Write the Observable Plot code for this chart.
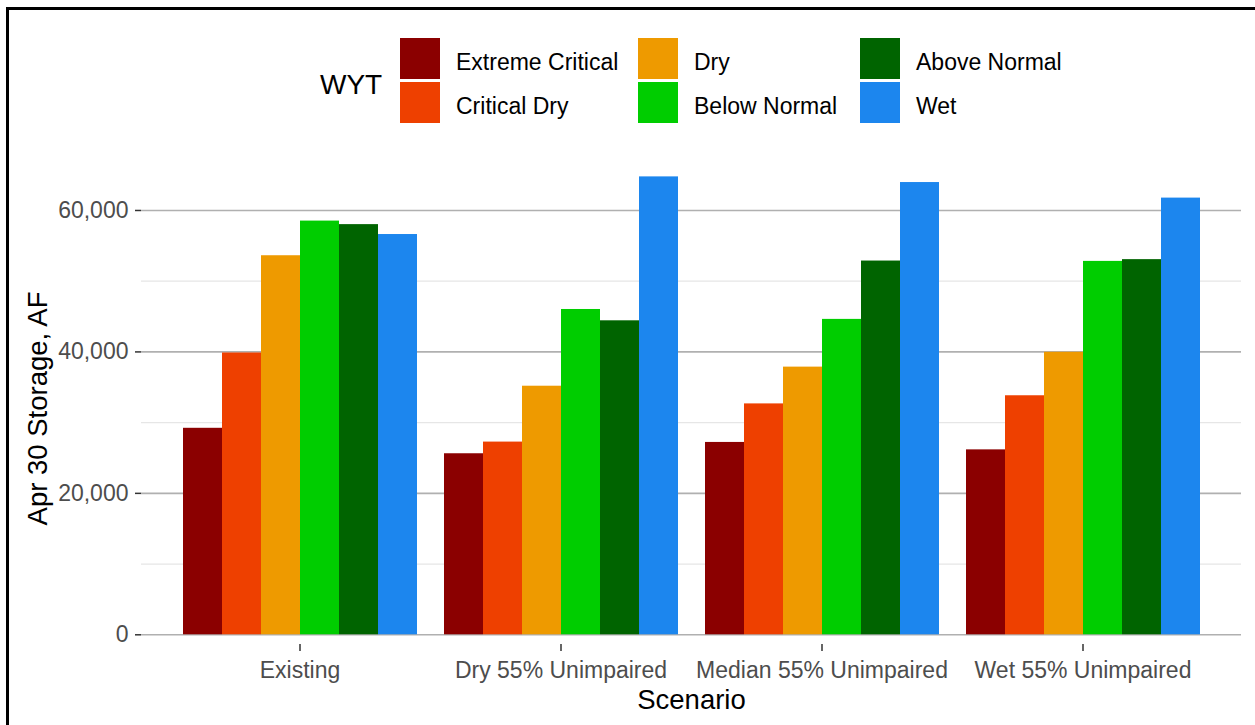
<!DOCTYPE html>
<html>
<head>
<meta charset="utf-8">
<script src="https://cdn.jsdelivr.net/npm/d3@7"></script>
<script src="https://cdn.jsdelivr.net/npm/@observablehq/plot@0.6"></script>
<style>
  html, body { margin: 0; padding: 0; background: #fff; overflow: hidden; }
  body { width: 1255px; height: 725px; position: relative; font-family: "Liberation Sans", Arial, sans-serif; }
  #frame { position: absolute; left: 6px; top: 7px; width: 1300px; height: 800px; border: 3px solid #000; box-sizing: border-box; }
  #legend { position: absolute; left: 0; top: 0; width: 1255px; height: 140px; }
  #legend .title { position: absolute; left: 320px; top: 68px; font-size: 28px; color: #000; line-height: 34px; }
  #legend .grid { position: absolute; left: 400px; top: 38px; display: grid;
    grid-template-columns: 40px 198px 40px 182px 40px auto; grid-template-rows: 41px 41px; row-gap: 3px; }
  #legend .sw { width: 40px; height: 41px; }
  #legend .lab { font-size: 23px; color: #000; padding-left: 16px; padding-top: 7px; display: flex; align-items: center; }
  #chart { position: absolute; left: 0; top: 140px; width: 1255px; height: 585px; }
  #chart > svg { position: absolute; left: 0; top: 0; }
</style>
</head>
<body>
<div id="legend"></div>
<div id="chart"></div>
<div id="frame"></div>
<script>
// ---- data ----
const scenarios = ["Existing", "Dry 55% Unimpaired", "Median 55% Unimpaired", "Wet 55% Unimpaired"];
const wytTypes = ["Extreme Critical", "Critical Dry", "Dry", "Below Normal", "Above Normal", "Wet"];
const wytColors = ["#8B0000", "#EE4000", "#EE9A00", "#00CD00", "#006400", "#1C86EE"];
const extremeCritical = [29200, 25600, 27200, 26150];
const criticalDry     = [39850, 27250, 32650, 33800];
const dryValues       = [53600, 35150, 37850, 39950];
const belowNormal     = [58500, 46000, 44600, 52800];
const aboveNormal     = [58000, 44400, 52850, 53050];
const wetValues       = [56600, 64750, 63950, 61750];
const majorTicks = [0, 20000, 40000, 60000];
const minorTicks = [10000, 30000, 50000];
const xTitle = "Scenario";
const yTitle = "Apr 30 Storage, AF";
const legendTitle = "WYT";

const series = [extremeCritical, criticalDry, dryValues, belowNormal, aboveNormal, wetValues];
const data = scenarios.flatMap((s, i) => wytTypes.map((w, j) => ({scenario: s, wyt: w, value: series[j][i]})));

// ---- legend (HTML) ----
const legend = document.getElementById("legend");
const t = document.createElement("div");
t.className = "title"; t.textContent = legendTitle; legend.appendChild(t);
const grid = document.createElement("div"); grid.className = "grid"; legend.appendChild(grid);
// column-major order: 2 rows x 3 columns
for (let r = 0; r < 2; r++) {
  for (let c = 0; c < 3; c++) {
    const k = c * 2 + r;
    const sw = document.createElement("div"); sw.className = "sw"; sw.style.background = wytColors[k];
    const lb = document.createElement("div"); lb.className = "lab"; lb.textContent = wytTypes[k];
    grid.appendChild(sw); grid.appendChild(lb);
  }
}

// ---- shared layout ----
const W = 1255, H = 585;
const common = {
  width: W, height: H, marginLeft: 141, marginRight: 14, marginTop: 32, marginBottom: 81,
};
const yDomain = [-1372, 65370];
const font = "'Liberation Sans', Arial, sans-serif";

// background plot: grid, y axis, titles
const back = Plot.plot({
  ...common,
  y: {domain: yDomain},
  style: {fontFamily: font, background: "white", overflow: "visible"},
  marks: [
    Plot.ruleY(minorTicks, {stroke: "#e6e6e6", strokeWidth: 1.2}),
    Plot.ruleY(majorTicks, {stroke: "#b0b0b0", strokeWidth: 1.6}),
    Plot.axisY({ticks: majorTicks, tickSize: 6, tickPadding: 7, tickFormat: d3.format(","),
      fontSize: 23, fill: "#4d4d4d", stroke: "#333", strokeWidth: 1.5, label: null}),
    Plot.text([yTitle], {frameAnchor: "left", textAnchor: "middle", lineAnchor: "middle",
      dx: -103, rotate: -90, fontSize: 27.5, fill: "#000"}),
    Plot.text([xTitle], {frameAnchor: "bottom", textAnchor: "middle", lineAnchor: "middle",
      dy: 56, fontSize: 27.5, fill: "#000"})
  ]
});

// foreground plot: grouped bars
const front = Plot.plot({
  ...common,
  fx: {domain: scenarios, paddingInner: 0.1, paddingOuter: 0.15, label: null},
  x: {domain: wytTypes, padding: 0, axis: null},
  y: {domain: yDomain, axis: null},
  color: {domain: wytTypes, range: wytColors},
  style: {fontFamily: font, background: "transparent", overflow: "visible"},
  marks: [
    Plot.barY(data, {fx: "scenario", x: "wyt", y: "value", fill: "wyt"}),
    Plot.axisFx({anchor: "bottom", tickSize: 7, tickPadding: 10, fontSize: 23,
      fill: "#4d4d4d", stroke: "#333", strokeWidth: 1.5, label: null})
  ]
});

const chart = document.getElementById("chart");
chart.appendChild(back);
chart.appendChild(front);
</script>
</body>
</html>
